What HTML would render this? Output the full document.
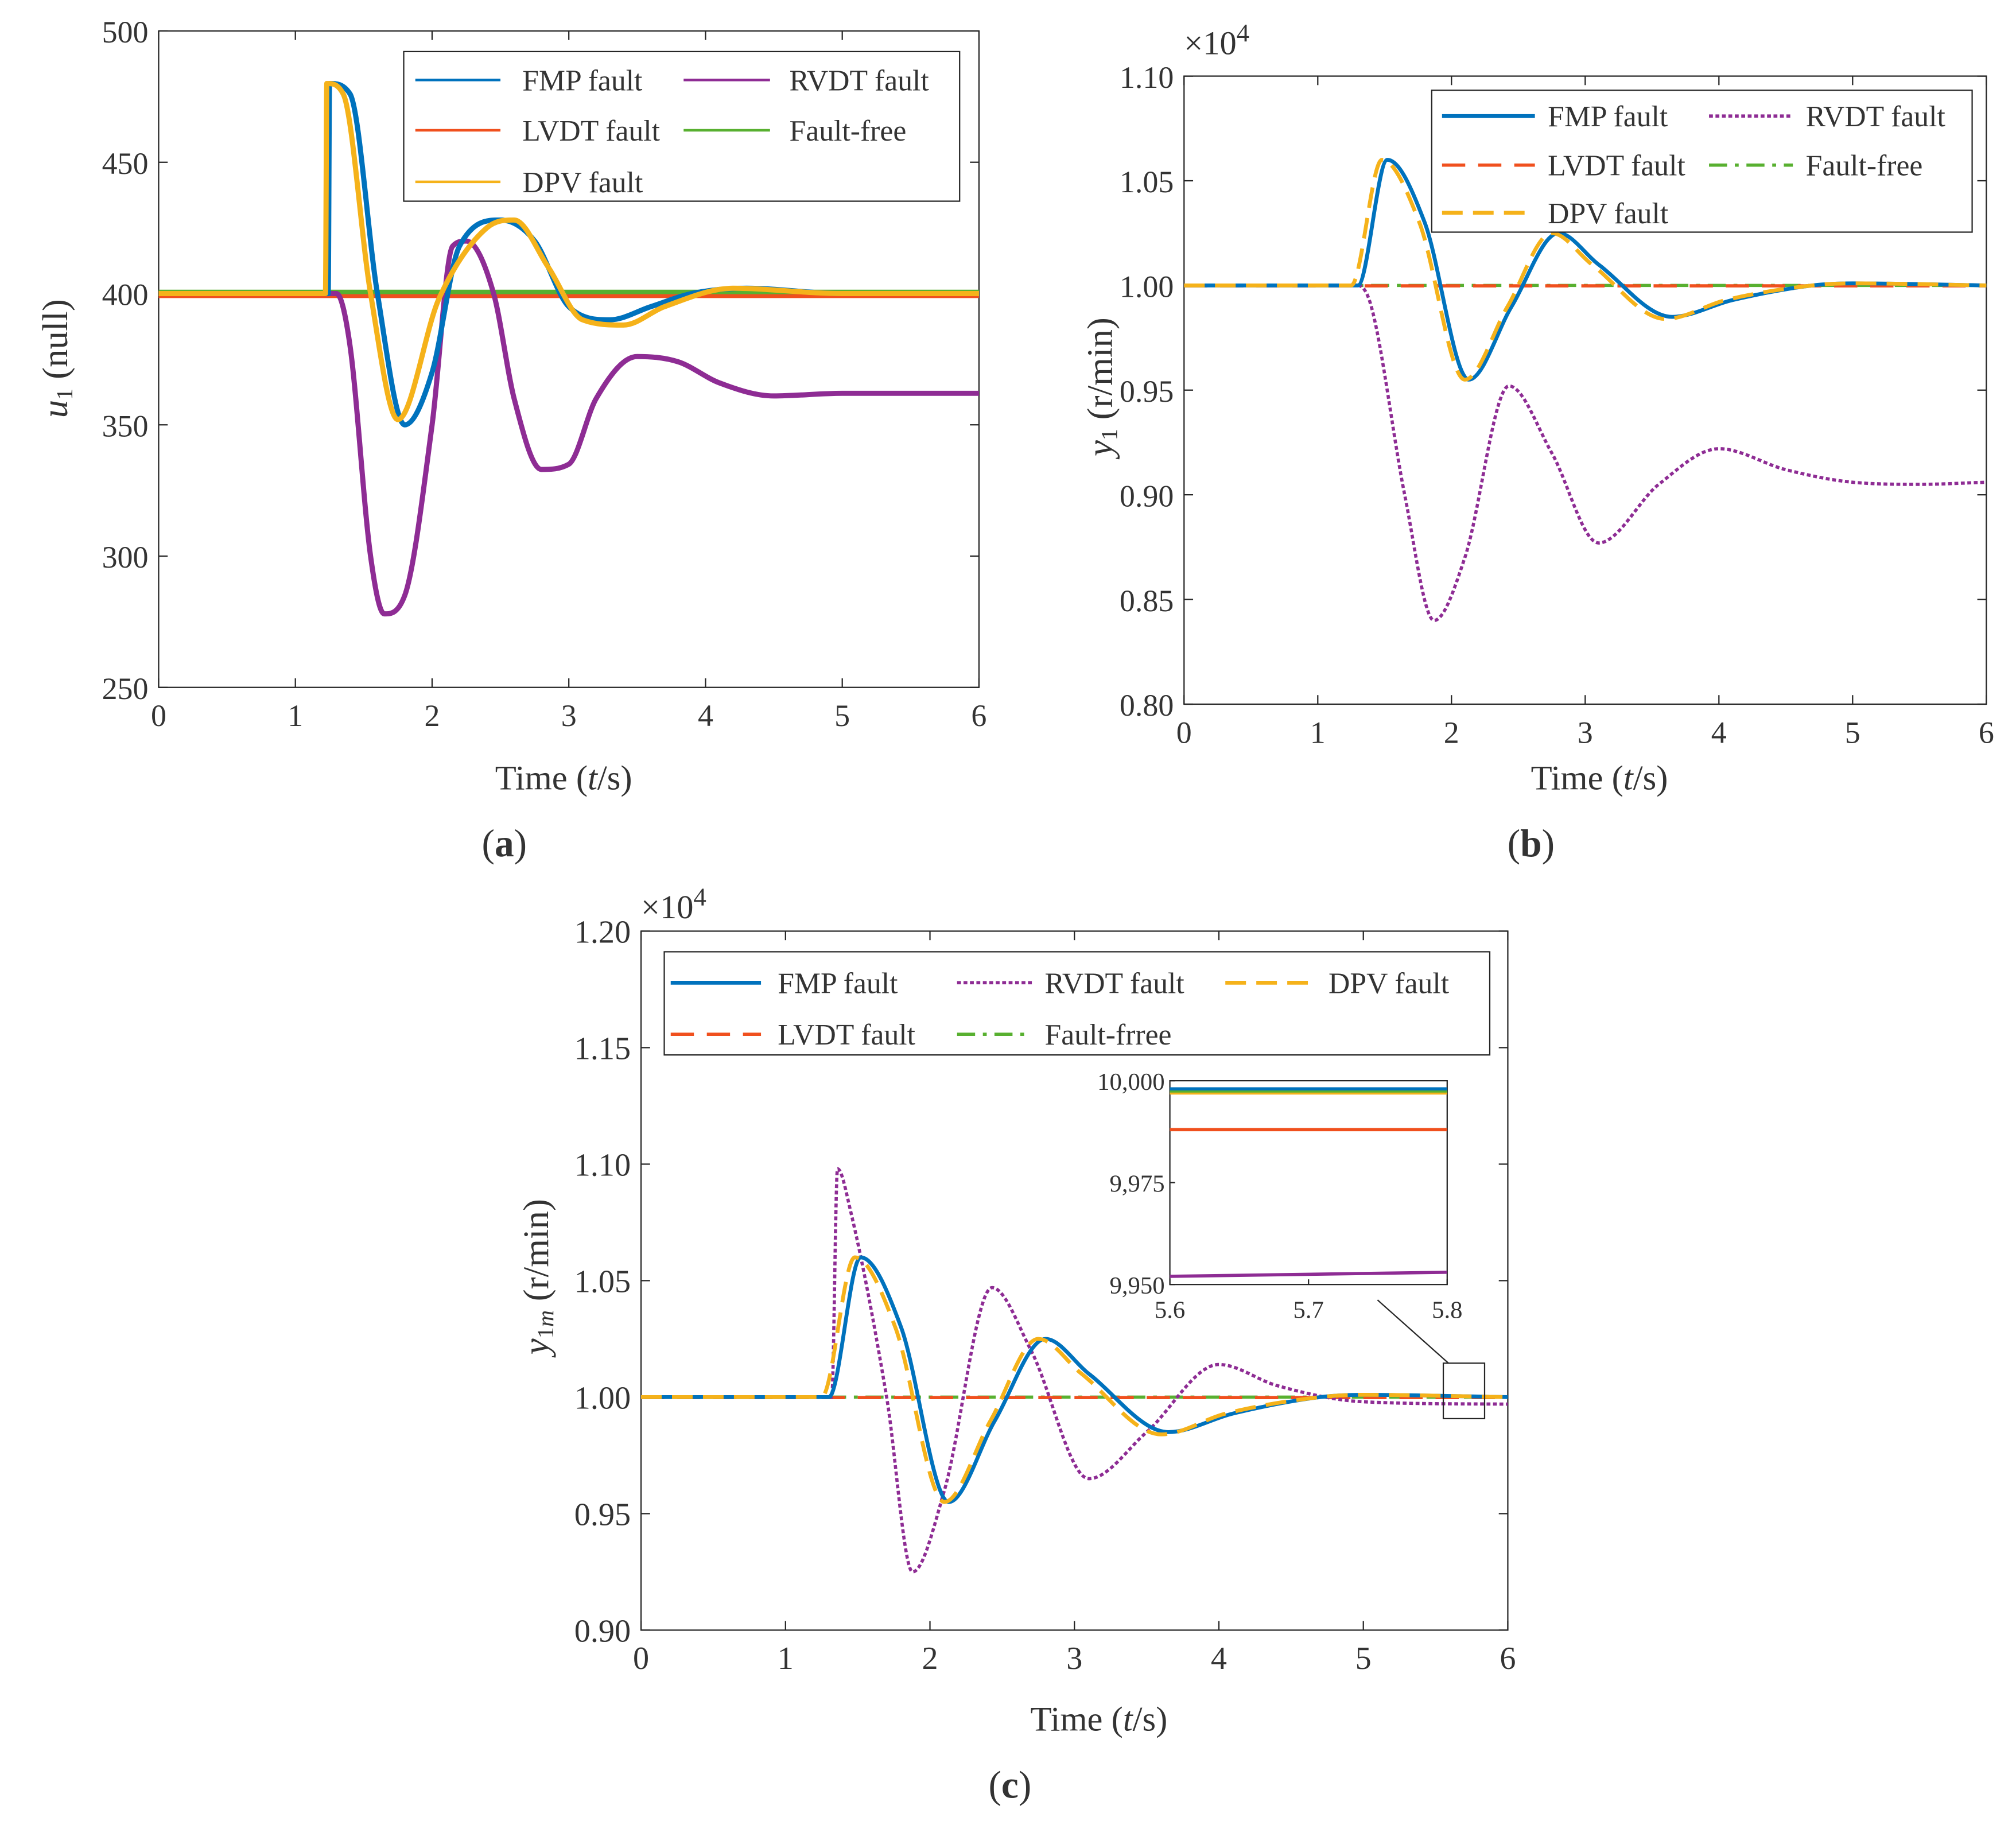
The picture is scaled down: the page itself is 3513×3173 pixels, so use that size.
<!DOCTYPE html>
<html><head><meta charset="utf-8"><style>
html,body{margin:0;padding:0;background:#fff}
svg{display:block}
text{font-family:"Liberation Serif",serif;fill:#333}
</style></head><body>
<svg id="s" width="3513" height="3173" viewBox="0 0 1563 1412" preserveAspectRatio="none" xmlns="http://www.w3.org/2000/svg"></svg>
<script>
// ---- data (panel a) ----
const aFmpT=[0,1.24,1.25,1.4,1.6,1.8,2.0,2.2,2.5,2.75,3.0,3.3,3.6,3.9,4.3,5,6];
const aFmpV=[400,400,480,476,400,350,370,418,428,420,395,390,395,400,402,400,400];
const aDpvT=[0,1.22,1.23,1.35,1.55,1.75,2.05,2.4,2.6,2.85,3.1,3.4,3.7,4.2,5,6];
const aDpvV=[400,400,480,476,400,352,398,425,428,410,390,388,395,402,400,400];
const aRvdtT=[0,1.3,1.4,1.55,1.65,1.8,2.0,2.15,2.25,2.45,2.6,2.8,3.0,3.2,3.5,3.8,4.1,4.5,5,6];
const aRvdtV=[400,400,380,300,278,285,350,418,420,400,360,333,335,360,376,374,366,361,362,362];
const aLvdt=399, aFree=400;
// ---- data (panels b,c) x10^4 ----
const bFmpT=[0,1.3,1.52,1.8,2.13,2.45,2.8,3.1,3.65,4.1,4.7,5,6];
const bFmpV=[1,1,1.06,1.03,0.955,0.99,1.025,1.01,0.985,0.993,1.0,1.001,1.0];
const bDpvT=[0,1.25,1.48,1.76,2.1,2.42,2.75,3.05,3.6,4.05,4.7,5,6];
const bDpvV=[1,1,1.06,1.03,0.955,0.99,1.025,1.01,0.984,0.993,1.0,1.001,1.0];
const bRvdtT=[0,1.3,1.4,1.65,1.87,2.1,2.43,2.75,3.1,3.55,4.0,4.5,5,5.5,6];
const bRvdtV=[1,1,0.99,0.9,0.84,0.87,0.952,0.92,0.877,0.905,0.922,0.912,0.906,0.905,0.906];
const cRvdtT=[0,1.32,1.36,1.45,1.7,1.88,2.1,2.43,2.7,3.1,3.5,4.0,4.4,5.0,6];
const cRvdtV=[1,1,1.098,1.08,1.0,0.925,0.96,1.047,1.02,0.965,0.985,1.014,1.005,0.998,0.997];
const bLvdt=0.9998, bFree=1.0;
// inset
const inT=[5.6,5.8];
const inFmp=[9998,9998], inFree=[9997.5,9997.5], inDpv=[9997,9997], inLvdt=[9988,9988], inRvdt=[9952,9953];
const xTicks=[0,1,2,3,4,5,6];
const aTicks=[250,300,350,400,450,500];
const bTicks=[0.80,0.85,0.90,0.95,1.00,1.05,1.10];
const cTicks=[0.90,0.95,1.00,1.05,1.10,1.15,1.20];
const inXT=[5.6,5.7,5.8], inYT=[9950,9975,10000];

const S=document.getElementById('s');
const NS='http://www.w3.org/2000/svg';
function el(t,a,p){const e=document.createElementNS(NS,t);for(const k in a)e.setAttribute(k,a[k]);(p||S).appendChild(e);return e;}
function txt(x,y,s,size,anchor,p){const e=el('text',{x:x,y:y,'font-size':size,'text-anchor':anchor||'middle'},p);e.textContent=s;return e;}
const C={fmp:'#0072BD',lvdt:'#F0501E',dpv:'#F5B21A',rvdt:'#8E2C94',free:'#58B030'};
function axis(L,R,T,B,x0,x1,y0,y1){return {L,R,T,B,x:v=>L+(v-x0)/(x1-x0)*(R-L),y:v=>B-(v-y0)/(y1-y0)*(B-T)};}
function smooth(ax,T,V){ // monotone cubic (Fritsch-Carlson) through data points
  const P=T.map((t,i)=>[ax.x(t),ax.y(V[i])]);const n=P.length;
  if(n<3)return 'M'+P.map(p=>p[0]+','+p[1]).join(' L');
  const d=[],m=[];
  for(let i=0;i<n-1;i++)d.push((P[i+1][1]-P[i][1])/(P[i+1][0]-P[i][0]));
  m[0]=d[0];m[n-1]=d[n-2];
  for(let i=1;i<n-1;i++){m[i]=(d[i-1]*d[i]<=0)?0:(d[i-1]+d[i])/2;}
  for(let i=0;i<n-1;i++){if(d[i]===0){m[i]=0;m[i+1]=0;continue;}
    const a=m[i]/d[i],b=m[i+1]/d[i],s=a*a+b*b;if(s>9){const t=3/Math.sqrt(s);m[i]=t*a*d[i];m[i+1]=t*b*d[i];}}
  let s='M'+P[0][0]+','+P[0][1];
  for(let i=0;i<n-1;i++){const h=(P[i+1][0]-P[i][0])/3;
    s+=' C'+(P[i][0]+h)+','+(P[i][1]+m[i]*h)+' '+(P[i+1][0]-h)+','+(P[i+1][1]-m[i+1]*h)+' '+P[i+1][0]+','+P[i+1][1];}
  return s;}
function frame(ax,yt,fmt,name,tick,fs){
  const g=el('g',{});
  el('rect',{x:ax.L,y:ax.T,width:ax.R-ax.L,height:ax.B-ax.T,fill:'none',stroke:'#262626','stroke-width':1},g);
  xTicks.forEach(v=>{const x=ax.x(v);el('line',{x1:x,x2:x,y1:ax.B,y2:ax.B-tick,stroke:'#262626'},g);el('line',{x1:x,x2:x,y1:ax.T,y2:ax.T+tick,stroke:'#262626'},g);txt(x,ax.B+30,String(v),fs,'middle',g);});
  yt.forEach(v=>{const y=ax.y(v);el('line',{x1:ax.L,x2:ax.L+tick,y1:y,y2:y,stroke:'#262626'},g);el('line',{x1:ax.R,x2:ax.R-tick,y1:y,y2:y,stroke:'#262626'},g);txt(ax.L-8,y+9,fmt(v),fs,'end',g);});
  return g;}
function path(d,color,w,dash,name){const p=el('path',{d:d,fill:'none',stroke:color,'stroke-width':w,'stroke-dasharray':dash||'none'});return p;}
function legendRow(g,x1,x2,y,color,dash,w,label,tx){el('line',{x1:x1,x2:x2,y1:y,y2:y,stroke:color,'stroke-width':w,'stroke-dasharray':dash||'none'},g);txt(tx,y+8,label,23,'start',g);}

// ---- Panel a ----
const A=axis(123,759,24,533,0,6,250,500);
frame(A,aTicks,v=>String(v),'panel-a-axes',7,24);
path(smooth(A,[0,6],[aFree,aFree]),C.free,6,null,'a-fault-free-line');
path(smooth(A,[0,6],[aLvdt,aLvdt]),C.lvdt,3,null,'a-lvdt-line');
path(smooth(A,aRvdtT,aRvdtV),C.rvdt,4,null,'a-rvdt-line');
path(smooth(A,aFmpT,aFmpV),C.fmp,4,null,'a-fmp-line');
path(smooth(A,aDpvT,aDpvV),C.dpv,4,null,'a-dpv-line');
let g=el('g',{});
el('rect',{x:313,y:40,width:431,height:116,fill:'#fff',stroke:'#262626'},g);
legendRow(g,322,388,62,C.fmp,null,2,'FMP fault',405);
legendRow(g,530,597,62,C.rvdt,null,2,'RVDT fault',612);
legendRow(g,322,388,101,C.lvdt,null,2,'LVDT fault',405);
legendRow(g,530,597,101,C.free,null,2,'Fault-free',612);
legendRow(g,322,388,141,C.dpv,null,2,'DPV fault',405);
let t=txt(52,278,'',28,'middle');t.setAttribute('transform','rotate(-90 52 278)');
t.innerHTML='<tspan font-style="italic">u</tspan><tspan font-size="18" dy="4">1</tspan><tspan dy="-4"> (null)</tspan>';
t=txt(437,612,'',27);t.innerHTML='Time (<tspan font-style="italic">t</tspan>/s)';
t=txt(391,664,'',30);t.innerHTML='(<tspan font-weight="bold">a</tspan>)';

// ---- Panel b ----
const B=axis(918,1540,59,546,0,6,0.80,1.10);
frame(B,bTicks,v=>v.toFixed(2),'panel-b-axes',7,24);
path(smooth(B,[0,6],[bFree,bFree]),C.free,2.5,'14 6 3 6','b-fault-free-line');
path(smooth(B,[0,6],[bLvdt,bLvdt]),C.lvdt,2.5,'18 10','b-lvdt-line');
path(smooth(B,bRvdtT,bRvdtV),C.rvdt,2.5,'3 2','b-rvdt-line');
path(smooth(B,bFmpT,bFmpV),C.fmp,3,null,'b-fmp-line');
path(smooth(B,bDpvT,bDpvV),C.dpv,3,'16 8','b-dpv-line');
g=el('g',{});
el('rect',{x:1110,y:70,width:419,height:110,fill:'#fff',stroke:'#262626'},g);
legendRow(g,1118,1190,90,C.fmp,null,3,'FMP fault',1200);
legendRow(g,1325,1390,90,C.rvdt,'3 2',2.5,'RVDT fault',1400);
legendRow(g,1118,1190,128,C.lvdt,'18 10',2.5,'LVDT fault',1200);
legendRow(g,1325,1390,128,C.free,'14 6 3 6',2.5,'Fault-free',1400);
legendRow(g,1118,1190,165,C.dpv,'16 8',3,'DPV fault',1200);
t=txt(918,42,'',26,'start');t.innerHTML='×10<tspan font-size="20" dy="-10">4</tspan>';
t=txt(862,300,'',28);t.setAttribute('transform','rotate(-90 862 300)');
t.innerHTML='<tspan font-style="italic">y</tspan><tspan font-size="18" dy="4">1</tspan><tspan dy="-4"> (r/min)</tspan>';
t=txt(1240,612,'',27);t.innerHTML='Time (<tspan font-style="italic">t</tspan>/s)';
t=txt(1187,664,'',30);t.innerHTML='(<tspan font-weight="bold">b</tspan>)';

// ---- Panel c ----
const Cx=axis(497,1169,722,1264,0,6,0.90,1.20);
frame(Cx,cTicks,v=>v.toFixed(2),'panel-c-axes',7,25);
path(smooth(Cx,[0,6],[bFree,bFree]),C.free,2.5,'14 6 3 6','c-fault-free-line');
path(smooth(Cx,[0,6],[bLvdt,bLvdt]),C.lvdt,2.5,'18 10','c-lvdt-line');
path(smooth(Cx,cRvdtT,cRvdtV),C.rvdt,2.5,'3 2','c-rvdt-line');
path(smooth(Cx,bFmpT,bFmpV),C.fmp,3,null,'c-fmp-line');
path(smooth(Cx,bDpvT,bDpvV),C.dpv,3,'16 8','c-dpv-line');
g=el('g',{});
el('rect',{x:515,y:738,width:640,height:80,fill:'#fff',stroke:'#262626'},g);
legendRow(g,520,590,762,C.fmp,null,3,'FMP fault',603);
legendRow(g,742,800,762,C.rvdt,'3 2',2.5,'RVDT fault',810);
legendRow(g,950,1020,762,C.dpv,'16 8',3,'DPV fault',1030);
legendRow(g,520,590,802,C.lvdt,'18 10',2.5,'LVDT fault',603);
legendRow(g,742,800,802,C.free,'14 6 3 6',2.5,'Fault-frree',810);
t=txt(497,712,'',26,'start');t.innerHTML='×10<tspan font-size="20" dy="-10">4</tspan>';
t=txt(425,990,'',28);t.setAttribute('transform','rotate(-90 425 990)');
t.innerHTML='<tspan font-style="italic">y</tspan><tspan font-size="18" dy="4">1<tspan font-style="italic">m</tspan></tspan><tspan dy="-4"> (r/min)</tspan>';
t=txt(852,1342,'',27);t.innerHTML='Time (<tspan font-style="italic">t</tspan>/s)';
t=txt(783,1394,'',30);t.innerHTML='(<tspan font-weight="bold">c</tspan>)';
// zoom box
el('rect',{x:1119,y:1057,width:32,height:43,fill:'none',stroke:'#262626',});
el('line',{x1:1068,y1:1008,x2:1123,y2:1057,stroke:'#262626',});
// inset
const I=axis(907,1122,838,996,5.6,5.8,9950,10000);
g=el('g',{});
el('rect',{x:I.L,y:I.T,width:I.R-I.L,height:I.B-I.T,fill:'#fff',stroke:'#262626'},g);
inXT.forEach(v=>{const x=I.x(v);el('line',{x1:x,x2:x,y1:I.B,y2:I.B-4,stroke:'#262626'},g);txt(x,I.B+26,v.toFixed(1),19,'middle',g);});
inYT.forEach(v=>{const y=I.y(v);el('line',{x1:I.L,x2:I.L+4,y1:y,y2:y,stroke:'#262626'},g);txt(I.L-4,y+7,v.toLocaleString('en-US'),19,'end',g);});
path(smooth(I,inT,inRvdt),C.rvdt,2.5,null,'inset-rvdt-line');
path(smooth(I,inT,inLvdt),C.lvdt,2.5,null,'inset-lvdt-line');
path(smooth(I,inT,inDpv),C.dpv,2.5,null,'inset-dpv-line');
path(smooth(I,inT,inFree),C.free,2.5,null,'inset-fault-free-line');
path(smooth(I,inT,inFmp),C.fmp,2.5,null,'inset-fmp-line');
</script>
</body></html>
